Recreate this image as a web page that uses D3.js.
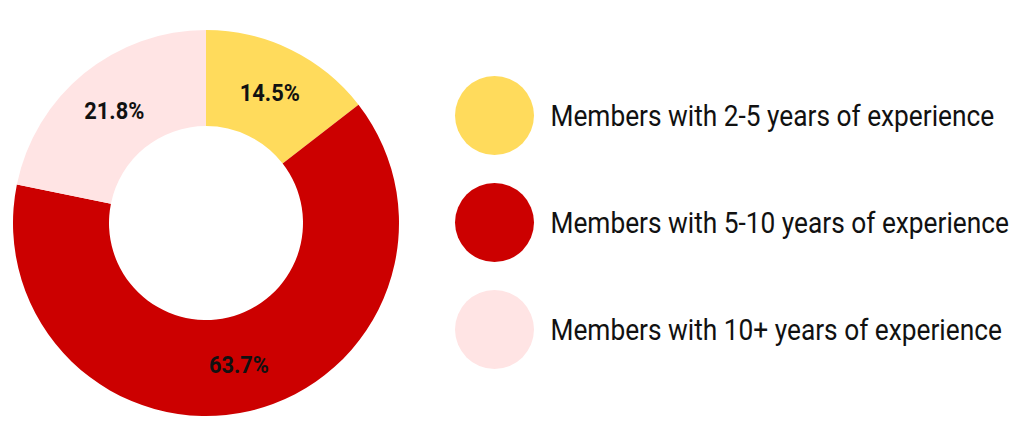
<!DOCTYPE html>
<html>
<head>
<meta charset="utf-8">
<script src="https://cdn.jsdelivr.net/npm/d3@7"></script>
<style>
  body { margin: 0; background: #fff; }
  svg { display: block; }
  text { font-family: Roboto, "Noto Sans", sans-serif; }
</style>
</head>
<body>
<script>
// data
var categories = ["Members with 2-5 years of experience",
                  "Members with 5-10 years of experience",
                  "Members with 10+ years of experience"];
var values = [14.5, 63.7, 21.8];
var colors = ["#FFDB5C", "#CC0000", "#FFE4E4"];

var w = 1024, h = 444;
var cx = 206, cy = 223;
var outerR = 193, innerR = 97;

var svg = d3.select("body").append("svg")
            .attr("width", w)
            .attr("height", h);

var pie = d3.pie().sort(null).value(function(d){ return d; });
var arcs = pie(values);

var arc = d3.arc().innerRadius(innerR).outerRadius(outerR);
var labelArc = d3.arc().innerRadius(145).outerRadius(145);

var g = svg.append("g").attr("transform", "translate(" + cx + "," + cy + ")");

g.selectAll("path")
 .data(arcs)
 .enter()
 .append("path")
 .attr("d", arc)
 .attr("fill", function(d, i){ return colors[i]; });

// percent labels
var pct = g.selectAll("text.pct")
 .data(arcs)
 .enter()
 .append("text")
 .attr("class", "pct")
 .attr("text-anchor", "middle")
 .attr("dy", "0.36em")
 .attr("font-size", 24)
 .attr("font-weight", "bold")
 .attr("fill", "#111")
 .text(function(d){ return d.data.toFixed(1) + "%"; });

// narrow the labels to the width of the condensed face
var kp = 60 / pct.node().getComputedTextLength();
pct.attr("transform", function(d){
   var c = labelArc.centroid(d);
   return "translate(" + c[0] + "," + c[1] + ") scale(" + kp + ",1)";
 });

// legend
var legY = d3.scalePoint().domain(categories).range([115.5, 329.5]);

var leg = svg.selectAll("g.leg")
             .data(categories)
             .enter()
             .append("g")
             .attr("class", "leg")
             .attr("transform", function(d){ return "translate(494.5," + legY(d) + ")"; });

leg.append("circle")
   .attr("r", 39.5)
   .attr("fill", function(d, i){ return colors[i]; });

var legText = leg.append("text")
   .attr("x", 0)
   .attr("dy", "0.36em")
   .attr("font-size", 29)
   .attr("fill", "#111")
   .text(function(d){ return d; });

// condense the text to match the narrow face
var natural = legText.node().getComputedTextLength();
var k = 444 / natural;
legText.attr("transform", "translate(56,0) scale(" + k + ",1)");
</script>
</body>
</html>
